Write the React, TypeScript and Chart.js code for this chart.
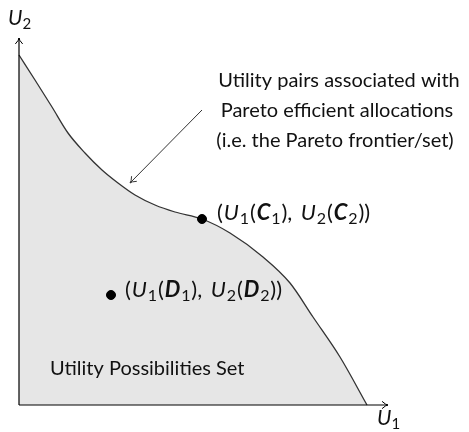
import React, { useEffect, useRef } from "react";
import { Chart, registerables } from "chart.js";

Chart.register(...registerables);

// Frontier (U1, U2) points
const frontierU1 = [0, 16, 33, 49, 66, 83, 99, 116, 136, 156, 183, 211, 244, 271, 294, 321, 348];
const frontierU2 = [350, 325, 298, 272, 252, 235, 222, 210, 200, 193, 186, 172, 148, 122, 88, 48, 0];

// Marked allocations
const pointLabels = ["C", "D"];
const pointU1 = [183, 92];
const pointU2 = [186, 110];

// Annotation lines
const noteLines = [
  "Utility pairs associated with",
  "Pareto efficient allocations",
  "(i.e. the Pareto frontier/set)",
];
const setLabel = "Utility Possibilities Set";

const FONT = "Lato, 'Noto Sans', sans-serif";

type Seg = [string, string];

function drawRich(ctx: CanvasRenderingContext2D, segs: Seg[], x: number, y: number, size: number, gap = 0) {
  let cx = x;
  for (const [t, st] of segs) {
    let font = `${size}px ${FONT}`;
    let dy = 0;
    if (st === "i") font = `italic ${size}px ${FONT}`;
    if (st === "bi") font = `italic bold ${size}px ${FONT}`;
    if (st === "s") {
      font = `${Math.round(size * 0.72)}px ${FONT}`;
      dy = size * 0.2;
    }
    ctx.font = font;
    ctx.fillText(t, cx, y + dy);
    cx += ctx.measureText(t).width + gap;
    if (st === "n" && t.includes(",")) cx += 2;
  }
}

function pairSegs(letter: string): Seg[] {
  return [
    ["(", "n"], ["U", "i"], ["1", "s"], ["(", "n"], [letter, "bi"], ["1", "s"], ["), ", "n"],
    ["U", "i"], ["2", "s"], ["(", "n"], [letter, "bi"], ["2", "s"], ["))", "n"],
  ];
}

function arrowHead(ctx: CanvasRenderingContext2D, x: number, y: number, ang: number, len = 7) {
  const a1 = ang + Math.PI - 0.55;
  const a2 = ang + Math.PI + 0.55;
  ctx.beginPath();
  ctx.moveTo(x + Math.cos(a1) * len, y + Math.sin(a1) * len);
  ctx.quadraticCurveTo(x - Math.cos(ang) * 2, y - Math.sin(ang) * 2, x, y);
  ctx.quadraticCurveTo(x - Math.cos(ang) * 2, y - Math.sin(ang) * 2, x + Math.cos(a2) * len, y + Math.sin(a2) * len);
  ctx.stroke();
}

const decor = {
  id: "decor",
  afterDatasetsDraw(chart: any) {
    const ctx: CanvasRenderingContext2D = chart.ctx;
    const xs = chart.scales.x;
    const ys = chart.scales.y;
    const X = (v: number) => xs.getPixelForValue(v);
    const Y = (v: number) => ys.getPixelForValue(v);
    ctx.save();
    // axes
    ctx.strokeStyle = "#000";
    ctx.lineWidth = 1.2;
    ctx.beginPath();
    ctx.moveTo(X(0), Y(0));
    ctx.lineTo(X(369), Y(0));
    ctx.moveTo(X(0), Y(0));
    ctx.lineTo(X(0), Y(367));
    ctx.stroke();
    ctx.lineWidth = 1;
    arrowHead(ctx, X(369), Y(0), 0);
    arrowHead(ctx, X(0), Y(367), -Math.PI / 2);

    // annotation arrow
    ctx.strokeStyle = "#333";
    ctx.lineWidth = 1;
    const ax0 = X(183), ay0 = Y(295), ax1 = X(111), ay1 = Y(222);
    ctx.beginPath();
    ctx.moveTo(ax0, ay0);
    ctx.lineTo(ax1, ay1);
    ctx.stroke();
    arrowHead(ctx, ax1, ay1, Math.atan2(ay1 - ay0, ax1 - ax0), 7);

    // texts
    ctx.fillStyle = "#111";
    ctx.textBaseline = "alphabetic";
    ctx.textAlign = "center";
    ctx.font = `20px ${FONT}`;
    noteLines.forEach((l, i) => {
      ctx.fillText(l, X(320) - i * 2, Y(318) + i * 30);
    });
    ctx.textAlign = "left";
    ctx.fillText(setLabel, X(31), Y(30));

    drawRich(ctx, pairSegs(pointLabels[0]), X(198), Y(185), 22, 0.9);
    drawRich(ctx, pairSegs(pointLabels[1]), X(106), Y(108), 22, 0.9);

    // axis labels
    drawRich(ctx, [["U", "i"], ["2", "s"]], X(-11), Y(380), 21);
    drawRich(ctx, [["U", "i"], ["1", "s"]], X(358), Y(-20), 21);
    ctx.restore();
  },
};

export default function App() {
  const ref = useRef<HTMLCanvasElement>(null);
  useEffect(() => {
    document.body.style.margin = "0";
    const chart = new Chart(ref.current!, {
      type: "scatter",
      data: {
        datasets: [
          {
            type: "line",
            data: frontierU1.map((u, i) => ({ x: u, y: frontierU2[i] })),
            borderColor: "#333",
            borderWidth: 1.3,
            backgroundColor: "#e6e6e6",
            fill: "origin",
            pointRadius: 0,
            cubicInterpolationMode: "monotone",
            clip: false,
            order: 1,
          } as any,
          {
            data: pointU1.map((u, i) => ({ x: u, y: pointU2[i] })),
            backgroundColor: "#000",
            borderColor: "#000",
            pointRadius: 4.5,
            clip: false,
            order: 0,
          } as any,
        ],
      },
      options: {
        animation: false,
        responsive: false,
        layout: { padding: { left: 19, right: 80, top: 38, bottom: 27 } },
        scales: {
          x: { type: "linear", min: 0, max: 370, display: false },
          y: { type: "linear", min: 0, max: 367, display: false },
        },
        plugins: { legend: { display: false }, tooltip: { enabled: false } },
      },
      plugins: [decor],
    });
    return () => chart.destroy();
  }, []);
  return (
    <div style={{ width: 469, height: 432 }}>
      <canvas ref={ref} width={469} height={432} />
    </div>
  );
}
